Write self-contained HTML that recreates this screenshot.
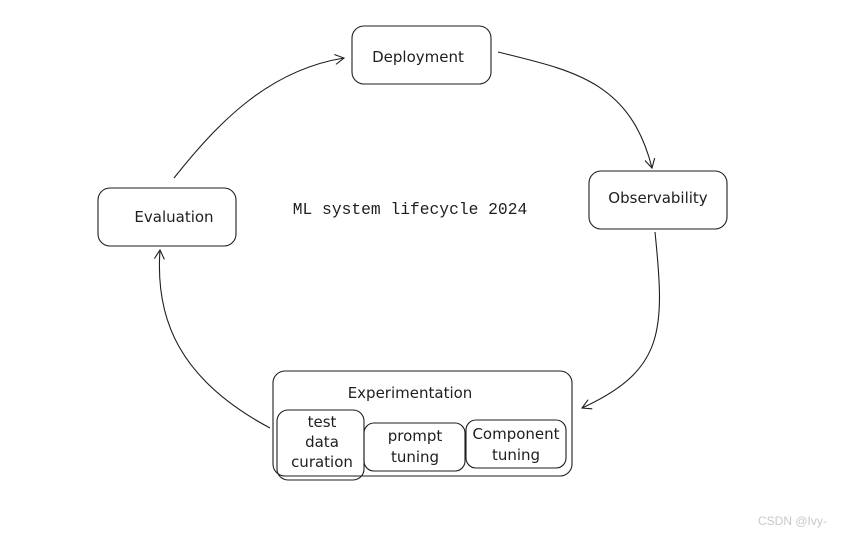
<!DOCTYPE html>
<html><head><meta charset="utf-8"><style>
html,body{margin:0;padding:0;background:#fff;}
svg text{font-family:"Comic Sans MS","DejaVu Sans","Liberation Sans",sans-serif;fill:#1e1e1e;}
</style></head><body>
<svg width="845" height="536" viewBox="0 0 845 536" xmlns="http://www.w3.org/2000/svg">
<defs><marker id="a" markerWidth="12" markerHeight="12" refX="10" refY="6" orient="auto" markerUnits="userSpaceOnUse"><path d="M1,1 L10,6 L1,11" fill="none" stroke="#1e1e1e" stroke-width="1.1"/></marker></defs>
<g fill="none" stroke="#1e1e1e" stroke-width="1.1">
<rect x="352" y="26" width="139" height="58" rx="12"/>
<rect x="589" y="171" width="138" height="58" rx="12"/>
<rect x="98" y="188" width="138" height="58" rx="12"/>
<rect x="273" y="371" width="299" height="105" rx="12"/>
<rect x="277" y="410" width="87" height="70" rx="11"/>
<rect x="364" y="423" width="101" height="48" rx="10"/>
<rect x="466" y="420" width="100" height="48" rx="10"/>
<path d="M498,52 C570,70 630,80 652,168" marker-end="url(#a)"/>
<path d="M655,232 C665,330 665,370 582,408" marker-end="url(#a)"/>
<path d="M270,428 C180,380 155,320 160,250" marker-end="url(#a)"/>
<path d="M174,178 C220,120 270,70 344,58" marker-end="url(#a)"/>
</g>
<text x="418" y="62" font-size="15" text-anchor="middle">Deployment</text>
<text x="658" y="203" font-size="15" text-anchor="middle">Observability</text>
<text x="174" y="222" font-size="15" text-anchor="middle">Evaluation</text>
<text x="410" y="214" font-size="16.3" text-anchor="middle" style="font-family:'Liberation Mono',monospace">ML system lifecycle 2024</text>
<text x="410" y="398" font-size="15" text-anchor="middle">Experimentation</text>
<text x="322" y="427" font-size="15" text-anchor="middle">test</text>
<text x="322" y="447" font-size="15" text-anchor="middle">data</text>
<text x="322" y="467" font-size="15" text-anchor="middle">curation</text>
<text x="415" y="441" font-size="15" text-anchor="middle">prompt</text>
<text x="415" y="462" font-size="15" text-anchor="middle">tuning</text>
<text x="516" y="439" font-size="15" text-anchor="middle">Component</text>
<text x="516" y="460" font-size="15" text-anchor="middle">tuning</text>
<text x="758" y="525" font-size="12" style="fill:#c8c8c8;font-family:'Liberation Sans',sans-serif">CSDN @Ivy-</text>
</svg>
</body></html>
